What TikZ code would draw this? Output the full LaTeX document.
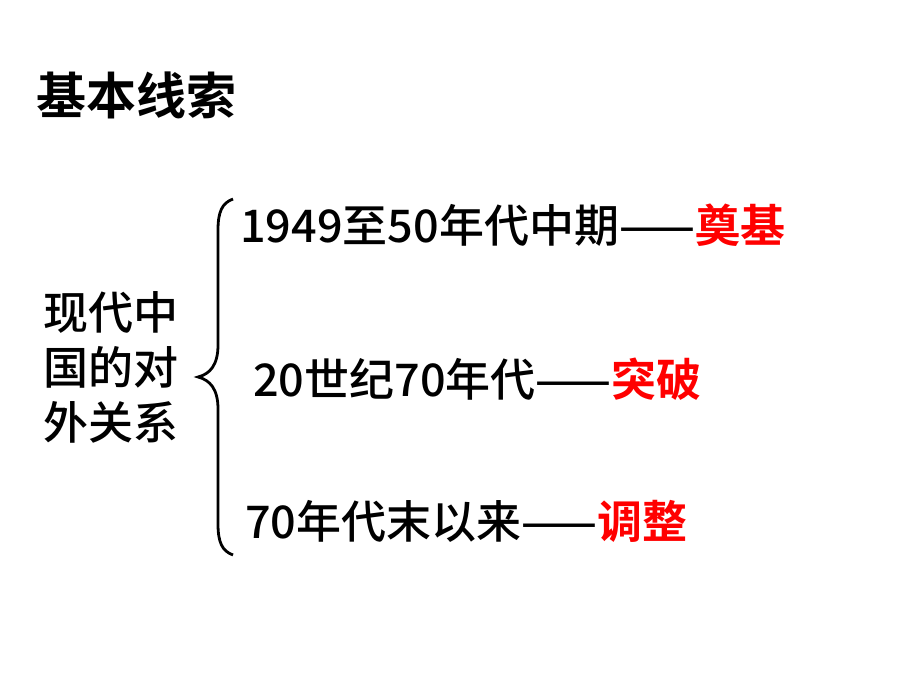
\documentclass[tikz,border=0pt]{standalone}
\usepackage{fontspec}
\newfontfamily\cjk{Noto Sans CJK SC Medium}[BoldFont={Noto Sans CJK SC Bold}]

\tikzset{
    period/.style={anchor=west, inner sep=0pt, font=\cjk\fontsize{45}{54}\selectfont},
}
\newcommand{\verdict}[1]{\textcolor{red}{\bfseries #1}}

\begin{document}
\begin{tikzpicture}[x=1pt, y=-1pt]

    \useasboundingbox (0,0) rectangle (920,690);

    \coordinate (brace-top) at (233,199);
    \coordinate (brace-tip) at (198,377);
    \coordinate (brace-bottom) at (233,555);

% titulo
\node[anchor=west, inner sep=0pt, font=\cjk\bfseries\fontsize{50}{60}\selectfont] (title) at (36,95) {基本线索};

% bloco da esquerda
\node[period, align=left, font=\cjk\fontsize{45}{55}\selectfont] (topic) at (43,367) {现代中\\国的对\\外关系};

% chave
\draw[black, line width=2.8pt] (brace-top) .. controls (222,203) and (218,212) .. (218,230)
    -- (218,345) .. controls (218,365) and (210,374) .. (brace-tip)
    .. controls (210,380) and (218,389) .. (218,409)
    -- (218,524) .. controls (218,542) and (222,551) .. (brace-bottom);

% tres periodos
\node[period] (early) at (240,225) {1949至50年代中期——\verdict{奠基}};
\node[period] (breakthrough) at (253,379) {20世纪70年代——\verdict{突破}};
\node[period] (adjust) at (245,521) {70年代末以来——\verdict{调整}};

\end{tikzpicture}
\end{document}
